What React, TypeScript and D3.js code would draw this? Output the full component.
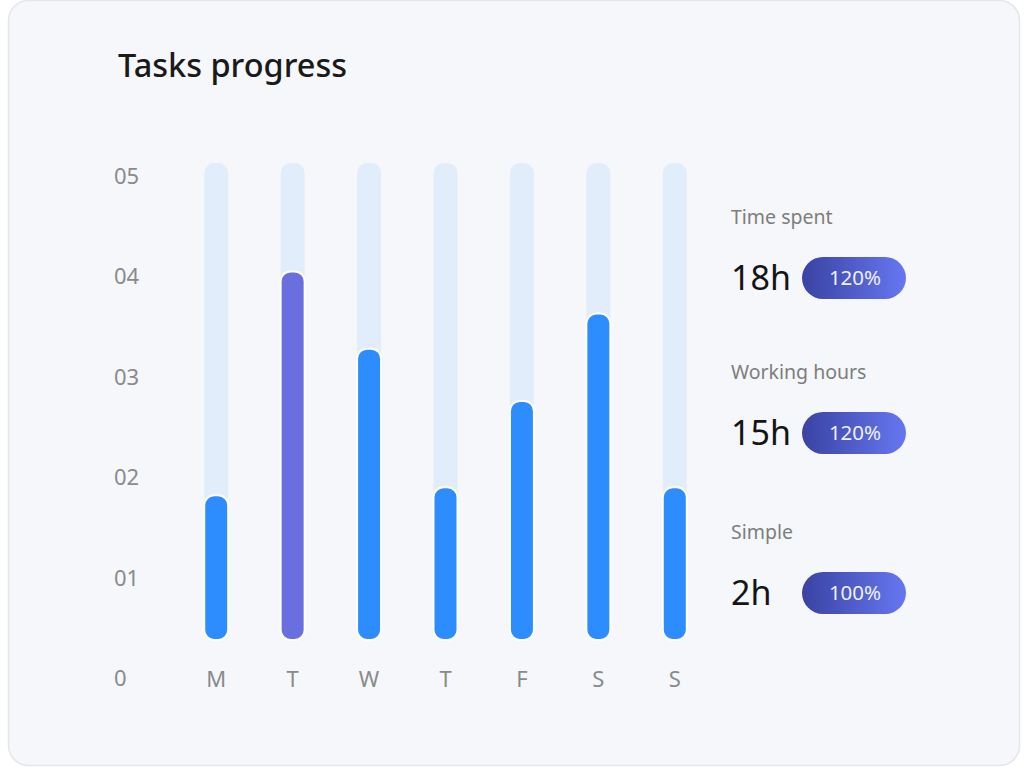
import React from "react";
import * as d3 from "d3";

const days = ["M", "T", "W", "T", "F", "S", "S"];
const values = [1.82, 4.05, 3.28, 1.9, 2.76, 3.63, 1.9];
const highlight = [false, true, false, false, false, false, false];
const yTicks = [0, 1, 2, 3, 4, 5];
const yTickLabels = ["0", "01", "02", "03", "04", "05"];
const statLabels = ["Time spent", "Working hours", "Simple"];
const statValues = ["18h", "15h", "2h"];
const statPercents = ["120%", "120%", "100%"];

const FONT = "'Noto Sans', 'Open Sans', sans-serif";

export default function App() {
  const W = 1024, H = 768;
  const y = d3.scaleLinear().domain([0, 5]).range([678, 176]);
  const x = d3.scaleBand<number>().domain(d3.range(days.length)).range([178, 713]).padding(0);
  const barW = 24;
  const barBottom = 640;
  const trackTop = 163;
  const statOffsets = [0, 155, 315];

  return (
    <svg width={W} height={H} style={{ position: "absolute", left: 0, top: 0 }}>
      <defs>
        <linearGradient id="pill" x1="0" x2="1" y1="0" y2="0">
          <stop offset="0%" stopColor="#3A43A3" />
          <stop offset="100%" stopColor="#6677F0" />
        </linearGradient>
      </defs>
      <rect x={0} y={0} width={W} height={H} fill="#ffffff" />
      <rect x={8.5} y={0.5} width={1011} height={765} rx={20} fill="#F5F7FB" stroke="#E4E6EB" strokeWidth={1.5} />
      <text x={118} y={77} fontFamily={FONT} fontSize={32.5} fontWeight={500} fill="#1a1a1a">Tasks progress</text>

      {yTicks.map((t, i) => (
        <text key={i} x={114} y={y(t)} dy="0.36em" fontFamily={FONT} fontSize={22} fill="#8a8a8a">{yTickLabels[i]}</text>
      ))}

      {days.map((d, i) => {
        const cx = (x(i) as number) + x.bandwidth() / 2;
        const top = y(values[i]);
        return (
          <g key={i}>
            <rect x={cx - barW / 2} y={trackTop} width={barW} height={barBottom - trackTop} rx={10} fill="#E2EDFB" />
            <rect x={cx - barW / 2} y={top} width={barW} height={barBottom - top} rx={10}
              fill={highlight[i] ? "#6A6FE0" : "#2E8DFE"} stroke="#ffffff" strokeWidth={2} />
            <text x={cx} y={679} dy="0.36em" textAnchor="middle" fontFamily={FONT} fontSize={22} fill="#8a8a8a">{d}</text>
          </g>
        );
      })}

      {statLabels.map((l, i) => (
        <g key={i} transform={`translate(0,${statOffsets[i]})`}>
          <text x={731} y={224} fontFamily={FONT} fontSize={19.5} fill="#7d7d7d">{l}</text>
          <text x={731} y={290} fontFamily={FONT} fontSize={34} fill="#141414">{statValues[i]}</text>
          <rect x={802} y={257} width={104} height={42} rx={21} fill="url(#pill)" />
          <text x={855} y={278} dy="0.36em" textAnchor="middle" fontFamily={FONT} fontSize={20.5} fill="#EEF0FF">{statPercents[i]}</text>
        </g>
      ))}
    </svg>
  );
}
